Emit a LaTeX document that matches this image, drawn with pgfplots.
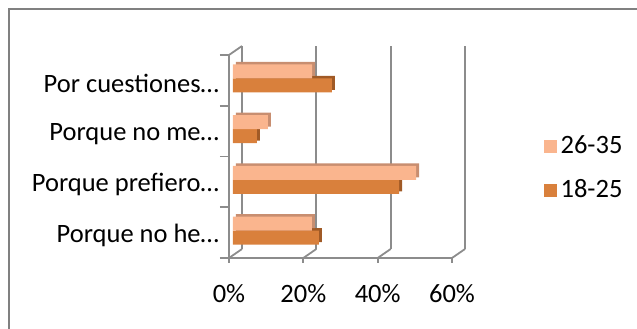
\documentclass[border=0pt]{standalone}
\usepackage{fontspec}
\setmainfont{Carlito}
\usepackage{pgfplots}
\pgfplotsset{compat=1.18}
\definecolor{lightO}{RGB}{250,181,142}
\definecolor{lightOside}{RGB}{200,142,112}
\definecolor{darkO}{RGB}{217,128,60}
\definecolor{darkOside}{RGB}{160,90,38}
\definecolor{gridg}{RGB}{140,140,140}
\definecolor{borderg}{RGB}{128,128,128}
\begin{document}
\fontsize{26.5bp}{31bp}\selectfont
\begin{tikzpicture}
% outer border
\draw[borderg, line width=2.5bp] (-220bp,-90bp) -- (-220bp,249bp) -- (430bp,249bp);
% 3D frame
\foreach \v in {0,74.333,148.667,223} {
  \draw[gridg, line width=1.8bp] (\v bp+13bp,9bp) -- (\v bp+13bp,212bp);
  \draw[gridg, line width=1.8bp] (\v bp,0bp) -- (\v bp+13bp,9bp);
  \draw[gridg, line width=1.8bp] (\v bp,0bp) -- (\v bp,-5bp);
}
\draw[gridg, line width=1.8bp] (0bp,0bp) -- (223bp,0bp);
\draw[gridg, line width=1.8bp] (0bp,0bp) -- (0bp,203bp) -- (13bp,212bp);
\foreach \k in {0,1,2,3,4} {
  \draw[gridg, line width=1.8bp] (-9bp,\k*50.75bp) -- (0bp,\k*50.75bp);
}
\begin{axis}[
  at={(0bp,0bp)}, anchor=south west,
  width=223bp, height=203bp, scale only axis,
  xmin=0, xmax=60, ymin=-0.5, ymax=3.5,
  clip=false,
  axis line style={draw=none},
  tick style={draw=none},
  xtick={0,20,40,60},
  xticklabels={0\%,20\%,40\%,60\%},
  xticklabel style={yshift=-17bp},
  ytick={0,1,2,3},
  yticklabels={Porque no he…,Porque prefiero…,Porque no me…,Por cuestiones…},
  yticklabel style={xshift=-1bp, yshift=-3bp},
  legend image code/.code={\fill[#1] (0bp,-6.5bp) rectangle (13bp,6.5bp);},
  legend style={draw=none, fill=none, at={(axis description cs:1.41,0.44)}, anchor=west,
    row sep=14bp, inner sep=0pt, nodes={inner sep=4bp}},
]
% 18-25 (lower bar)
\addplot[xbar, bar width=14bp, bar shift=-7bp, fill=darkOside, draw=none, xshift=7bp, yshift=4.5bp, forget plot]
  coordinates {(23.1,0) (44.7,1) (6.4,2) (26.6,3)};
\addplot[xbar, bar width=14bp, bar shift=-7bp, fill=darkO, draw=none, xshift=4bp, yshift=2bp, forget plot]
  coordinates {(23.1,0) (44.7,1) (6.4,2) (26.6,3)};
% 26-35 (upper bar)
\addplot[xbar, bar width=14bp, bar shift=7bp, fill=lightOside, draw=none, xshift=7bp, yshift=4.5bp, forget plot]
  coordinates {(21.2,0) (49.3,1) (9.4,2) (21.3,3)};
\addplot[xbar, bar width=14bp, bar shift=7bp, fill=lightO, draw=none, xshift=4bp, yshift=2bp, forget plot]
  coordinates {(21.2,0) (49.3,1) (9.4,2) (21.3,3)};
\addlegendimage{fill=lightO, draw=none}
\addlegendentry{26-35}
\addlegendimage{fill=darkO, draw=none}
\addlegendentry{18-25}
\end{axis}
\pgfresetboundingbox
\path[use as bounding box] (-229bp,-71bp) rectangle (408bp,258bp);
\end{tikzpicture}
\end{document}
